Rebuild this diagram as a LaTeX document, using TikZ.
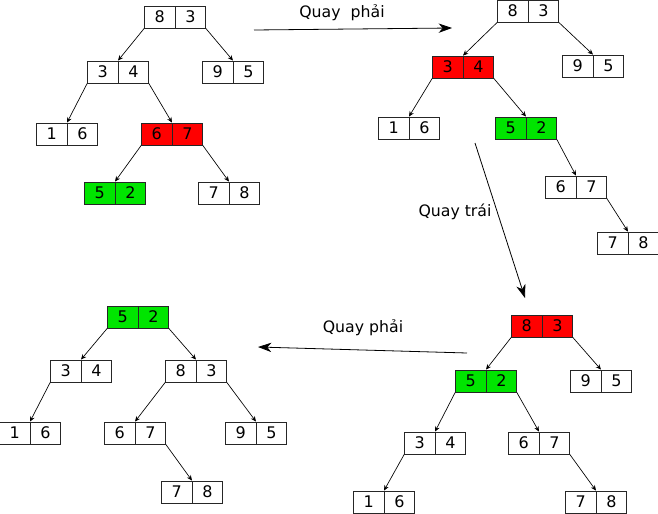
\documentclass[tikz,border=0pt]{standalone}
\usepackage{fontspec}
\setmainfont{DejaVu Sans}
\usetikzlibrary{arrows.meta, shapes.multipart, positioning}

\begin{document}
\begin{tikzpicture}[x=0.75pt,y=-0.75pt,
	pair/.style={rectangle split,rectangle split horizontal,rectangle split parts=2,
		draw=black!85,line width=0.6pt,inner xsep=0pt,inner ysep=0pt,
		text width=22.5pt,align=center,minimum height=16.5pt,
		font=\fontsize{12}{14}\selectfont},
	hot/.style={pair,fill=red},
	piv/.style={pair,fill=green!90!black},
	edge/.style={-{Stealth[length=4pt,width=3.5pt]},line width=0.5pt},
	rot/.style={-{Stealth[length=10pt,width=7pt,inset=3pt]},line width=0.6pt},
	lbl/.style={font=\fontsize{11.8}{14}\selectfont}]
\useasboundingbox (0,0) rectangle (658,514);
% tree before the first rotation
\foreach \n/\s/\x/\y in {83/pair/175/17,34/pair/118/72,95/pair/233/72,16/pair/67/134,
	67/hot/172/134,52/piv/115/193,78/pair/229/193}
	\node[\s] (A\n) at (\x,\y) {\pgfmathparse{int(\n/10)}\pgfmathresult\nodepart{two}\pgfmathparse{int(mod(\n,10))}\pgfmathresult};
\foreach \p/\c in {83/34,34/16,67/52}\draw[edge] (A\p.south west)--(A\c.north);
\foreach \p/\c in {83/95,34/67,67/78}\draw[edge] (A\p.south east)--(A\c.north);
% after right rotation
\foreach \n/\s/\x/\y in {83/pair/528/11,34/hot/463/67,95/pair/593/66,16/pair/409/128,
	52/piv/526/128,67/pair/576/187,78/pair/628/243}
	\node[\s] (B\n) at (\x,\y) {\pgfmathparse{int(\n/10)}\pgfmathresult\nodepart{two}\pgfmathparse{int(mod(\n,10))}\pgfmathresult};
\foreach \p/\c in {83/34,34/16}\draw[edge] (B\p.south west)--(B\c.north);
\foreach \p/\c in {83/95,34/52,52/67,67/78}\draw[edge] (B\p.south east)--(B\c.north);
% after left rotation
\foreach \n/\s/\x/\y in {83/hot/542/326,95/pair/601/381,52/piv/486/381,34/pair/435/443,
	67/pair/539/443,16/pair/384/502,78/pair/596/502}
	\node[\s] (C\n) at (\x,\y) {\pgfmathparse{int(\n/10)}\pgfmathresult\nodepart{two}\pgfmathparse{int(mod(\n,10))}\pgfmathresult};
\foreach \p/\c in {83/52,52/34,34/16}\draw[edge] (C\p.south west)--(C\c.north);
\foreach \p/\c in {83/95,52/67,67/78}\draw[edge] (C\p.south east)--(C\c.north);
% final tree
\foreach \n/\s/\x/\y in {52/piv/138/317,34/pair/81/371,83/pair/196/371,16/pair/30/433,
	67/pair/135/433,95/pair/256/433,78/pair/192/492}
	\node[\s] (D\n) at (\x,\y) {\pgfmathparse{int(\n/10)}\pgfmathresult\nodepart{two}\pgfmathparse{int(mod(\n,10))}\pgfmathresult};
\foreach \p/\c in {52/34,34/16,83/67}\draw[edge] (D\p.south west)--(D\c.north);
\foreach \p/\c in {52/83,83/95,67/78}\draw[edge] (D\p.south east)--(D\c.north);
% rotations
\coordinate (r1a) at (254,30); \coordinate (r1b) at (452,28);
\coordinate (r2a) at (475,143); \coordinate (r2b) at (525,298);
\coordinate (r3a) at (467,353); \coordinate (r3b) at (258,347);
\draw[rot] (r1a)--(r1b);
\draw[rot] (r2a)--(r2b);
\draw[rot] (r3a)--(r3b);
\node[lbl] (q1) at (342,13) {Quay\ \ phải};
\node[lbl] (q2) at (455,212) {Quay trái};
\node[lbl] (q3) at (363,328) {Quay phải};
\end{tikzpicture}
\end{document}
